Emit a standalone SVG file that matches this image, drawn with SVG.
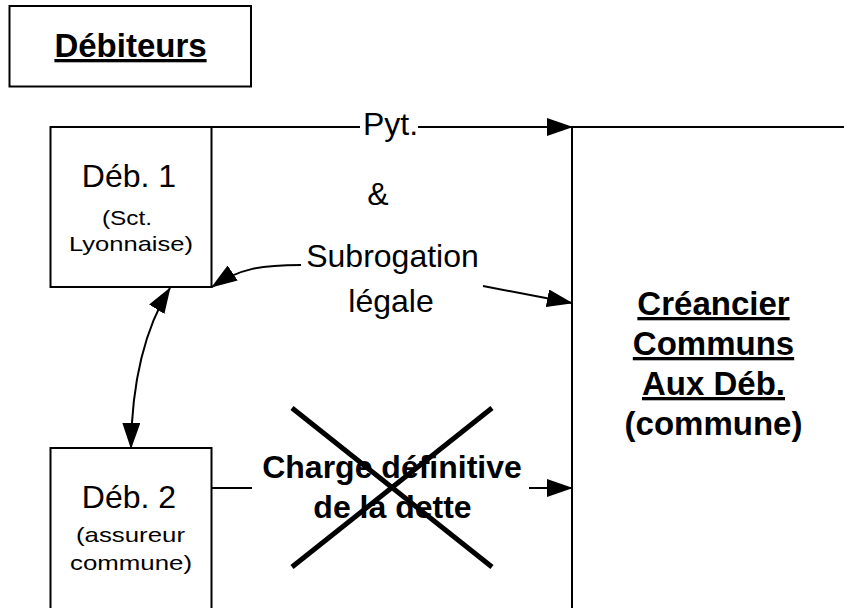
<svg xmlns="http://www.w3.org/2000/svg" width="844" height="608" viewBox="0 0 844 608">
  <style>
    text { font-family: "Liberation Sans", Arial, sans-serif; fill: #000; text-anchor: middle; }
    .box { fill: #fff; stroke: #000; stroke-width: 2; }
    .edge { fill: none; stroke: #000; stroke-width: 2; }
    .main { font-size: 32px; }
    .sub { font-size: 21px; }
    .bold { font-weight: bold; }
    .title { font-size: 33px; font-weight: bold; }
    .cross { stroke: #000; stroke-width: 5; }
  </style>
  <defs>
    <marker id="arrow" markerUnits="userSpaceOnUse" markerWidth="26" markerHeight="18" viewBox="0 0 26 18" refX="25" refY="9" orient="auto-start-reverse">
      <path d="M0,0 L26,9 L0,18 z" fill="#000"/>
    </marker>
  </defs>

  <rect width="844" height="608" fill="#fff"/>

  <!-- heading -->
  <g id="node-debiteurs">
    <rect class="box" x="9.5" y="6" width="241.5" height="80.5"/>
    <text class="title" x="130.5" y="57" text-decoration="underline">Débiteurs</text>
  </g>

  <!-- creditor: open box running off the right and bottom edges -->
  <g id="node-creancier">
    <path class="edge" d="M572,608 V127 H844"/>
    <text class="title" x="713.5" y="315" text-decoration="underline">Créancier</text>
    <text class="title" x="713.5" y="355" text-decoration="underline">Communs</text>
    <text class="title" x="713.5" y="395" text-decoration="underline">Aux Déb.</text>
    <text class="title" x="713.5" y="435">(commune)</text>
  </g>

  <g id="node-deb1">
    <rect class="box" x="50.5" y="127" width="161" height="160"/>
    <text class="main" x="129" y="187">Déb. 1</text>
    <text class="sub" x="127" y="225" textLength="50" lengthAdjust="spacingAndGlyphs">(Sct.</text>
    <text class="sub" x="131" y="251" textLength="124" lengthAdjust="spacingAndGlyphs">Lyonnaise)</text>
  </g>

  <g id="node-deb2">
    <rect class="box" x="50.5" y="448" width="161" height="200"/>
    <text class="main" x="129" y="508">Déb. 2</text>
    <text class="sub" x="130.5" y="542" textLength="109" lengthAdjust="spacingAndGlyphs">(assureur</text>
    <text class="sub" x="131" y="570" textLength="122" lengthAdjust="spacingAndGlyphs">commune)</text>
  </g>

  <g id="connectors">
    <!-- payment -->
    <path class="edge" d="M211,127 H360 M418,127 H572" marker-end="url(#arrow)"/>
    <!-- legal subrogation -->
    <path class="edge" d="M301,265 C262,265 240,268 212,287" marker-end="url(#arrow)"/>
    <path class="edge" d="M483,286 L572,303" marker-end="url(#arrow)"/>
    <!-- between the two debtors -->
    <path class="edge" d="M170,288 C150,320 132,370 131,448" marker-start="url(#arrow)" marker-end="url(#arrow)"/>
    <!-- final burden of the debt -->
    <path class="edge" d="M212,488 H252"/>
    <path class="edge" d="M529,488 H572" marker-end="url(#arrow)"/>
  </g>

  <g id="labels">
    <text class="main" x="390.5" y="135">Pyt.</text>
    <text class="main" x="378" y="205">&amp;</text>
    <text class="main" x="392.5" y="267">Subrogation</text>
    <text class="main" x="391" y="312">légale</text>
    <text class="main bold" x="392" y="478">Charge définitive</text>
    <text class="main bold" x="392.5" y="518">de la dette</text>
  </g>

  <!-- struck-out label -->
  <g id="strike">
    <line class="cross" x1="292" y1="408" x2="492" y2="567"/>
    <line class="cross" x1="492" y1="408" x2="292" y2="567"/>
  </g>
</svg>
